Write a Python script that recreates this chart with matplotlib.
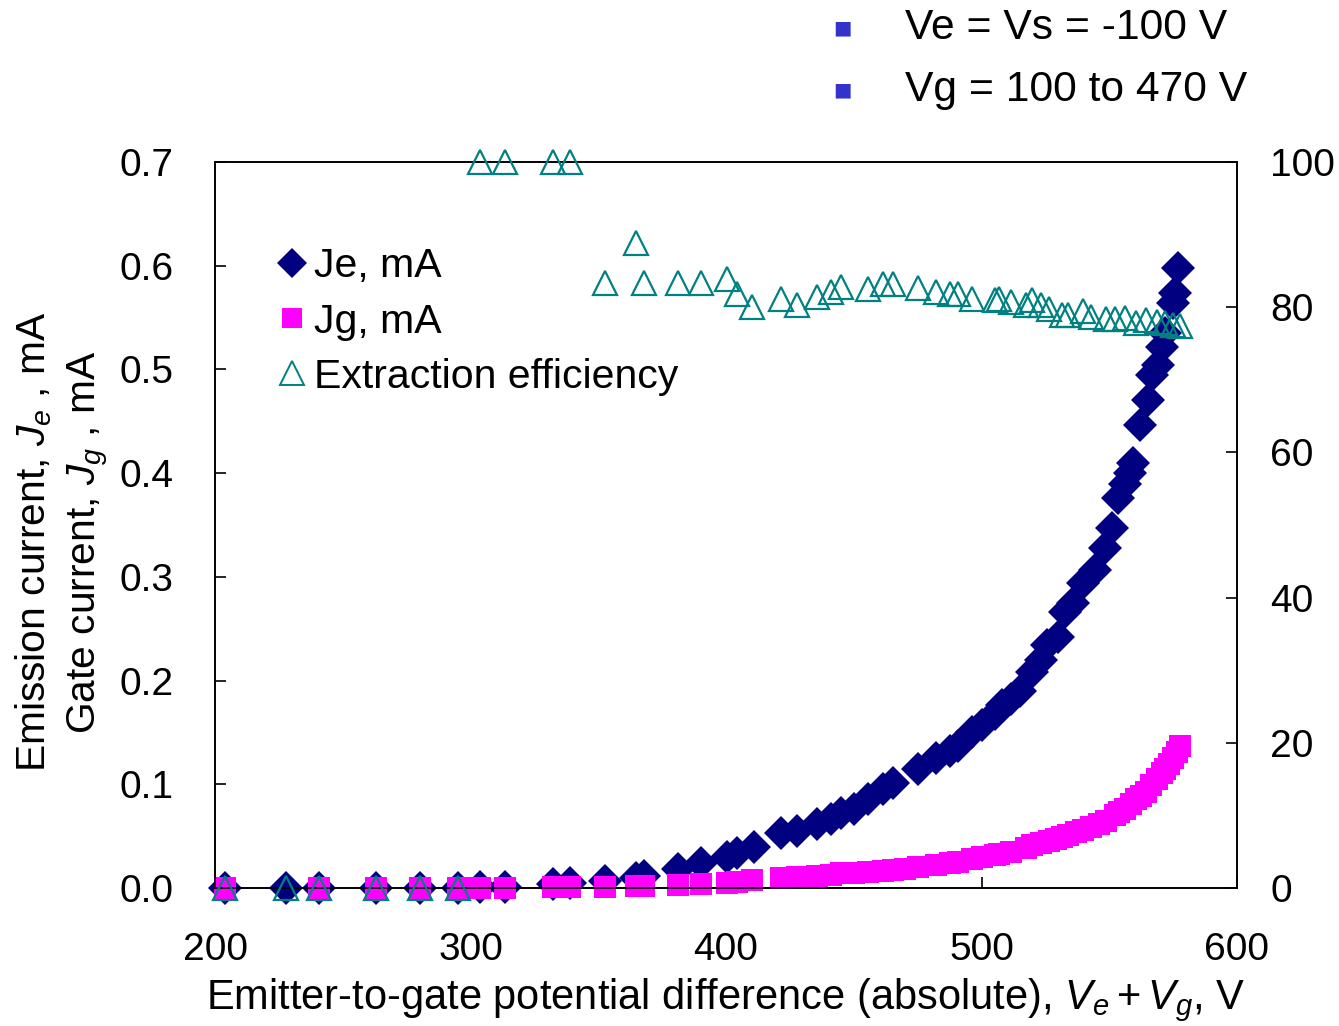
import matplotlib
matplotlib.use('Agg')
import matplotlib.pyplot as plt
from matplotlib.lines import Line2D

plt.rcParams['font.family'] = ['Liberation Sans', 'DejaVu Sans']
plt.rcParams['mathtext.fontset'] = 'custom'
plt.rcParams['mathtext.it'] = 'Liberation Sans:italic'
plt.rcParams['mathtext.rm'] = 'Liberation Sans'

# ---- data ----
v_je = [203.9, 227.8, 240.7, 263.0, 280.2, 295.1, 303.7, 313.5, 332.3, 338.9,
        352.6, 364.8, 367.9, 381.2, 390.2, 400.4, 404.3, 411.0, 421.5, 427.8,
        435.6, 441.1, 445.0, 450.0, 455.6, 461.4, 465.4, 475.1, 482.2, 487.7,
        490.8, 496.3, 500.0, 505.3, 508.0, 511.5, 515.0, 519.8, 523.3, 525.6,
        529.9, 532.7, 535.8, 539.7, 544.4, 548.3, 551.1, 553.4, 556.2, 558.1,
        559.3, 562.0, 565.2, 566.7, 569.0, 570.6, 572.0, 575.0, 575.7, 576.9]
je = [0, 0, 0, 0, 0, 0, 0.0005, 0.001, 0.004, 0.005,
      0.007, 0.010, 0.012, 0.018, 0.024, 0.030, 0.034, 0.040, 0.053, 0.055,
      0.062, 0.067, 0.072, 0.076, 0.086, 0.095, 0.101, 0.115, 0.125, 0.132,
      0.137, 0.150, 0.157, 0.168, 0.176, 0.182, 0.190, 0.208, 0.220, 0.234,
      0.242, 0.266, 0.275, 0.294, 0.307, 0.328, 0.347, 0.376, 0.390, 0.400,
      0.410, 0.446, 0.471, 0.495, 0.504, 0.522, 0.535, 0.564, 0.574, 0.598]

v_jg = [203.9, 240.7, 263.0, 280.2, 295.1, 303.7, 313.5, 332.3, 338.9,
        352.6, 364.8, 367.9, 381.2, 390.2, 400.4, 404.3, 410.2, 421.5, 427.8,
        435.6, 441.1, 445.0, 450.0, 455.6, 461.4, 465.4, 470.0, 475.1, 482.2,
        487.7, 490.8, 496.3, 500.0, 505.3, 506.8, 511.5, 517.4, 519.8, 523.3,
        526.4, 529.0, 531.5, 533.9, 537.0, 539.7, 542.9, 546.0, 548.7, 552.3,
        554.0, 556.2, 558.5, 560.5, 562.5, 564.4, 566.5, 568.7, 570.5, 571.8,
        573.5, 575.0, 576.5, 577.7]
jg = [0, 0, 0, 0, 0, 0, 0, 0.001, 0.001,
      0.001, 0.002, 0.002, 0.003, 0.004, 0.005, 0.006, 0.008, 0.010, 0.011,
      0.012, 0.013, 0.014, 0.0145, 0.015, 0.016, 0.017, 0.018, 0.020, 0.022,
      0.024, 0.025, 0.028, 0.030, 0.032, 0.033, 0.035, 0.039, 0.041, 0.043,
      0.045, 0.047, 0.049, 0.051, 0.054, 0.056, 0.059, 0.062, 0.065, 0.070,
      0.073, 0.076, 0.081, 0.086, 0.089, 0.093, 0.099, 0.105, 0.111, 0.115,
      0.120, 0.125, 0.131, 0.137]

v_eff = [203.9, 227.8, 240.7, 263.0, 280.2, 295.1, 303.7, 313.5, 332.3, 338.9,
         352.6, 364.8, 367.9, 381.2, 390.2, 400.4, 404.3, 410.2, 421.5, 427.8,
         435.6, 441.1, 445.0, 455.6, 461.4, 465.4, 475.1, 482.2, 487.7, 490.8,
         496.3, 505.3, 506.8, 511.5, 517.4, 519.8, 523.3, 526.4, 531.5, 533.9,
         539.7, 542.9, 548.7, 552.3, 556.2, 560.5, 564.4, 568.7, 571.8, 575.0, 577.7]
eff = [0, 0, 0, 0, 0, 0, 100, 100, 100, 100,
       83.3, 88.8, 83.3, 83.3, 83.3, 83.9, 81.8, 80.0, 81.1, 80.3,
       81.4, 82.1, 82.8, 82.5, 83.2, 83.2, 82.6, 82.1, 81.8, 81.8,
       81.1, 81.0, 81.1, 80.7, 80.3, 81.0, 80.3, 79.8, 78.9, 78.9,
       79.5, 78.7, 78.4, 78.4, 78.5, 77.8, 78.2, 78.0, 77.8, 77.5, 77.4]

x_ticks = [200, 300, 400, 500, 600]
y_ticks = [0.0, 0.1, 0.2, 0.3, 0.4, 0.5, 0.6, 0.7]
y2_ticks = [0, 20, 40, 60, 80, 100]

legend_labels = ['Je, mA', 'Jg, mA', 'Extraction efficiency']
notes = ['Ve = Vs = -100 V', 'Vg = 100 to 470 V']

c_je = '#000080'
c_jg = '#FF00FF'
c_eff = '#008080'

fig = plt.figure(figsize=(13.39, 10.26), dpi=100)
ax = fig.add_axes([215/1339, 138/1026, 1022/1339, 726/1026])
ax2 = ax.twinx()

ax.plot(v_je, je, linestyle='none', marker='D', ms=17, color=c_je, mec=c_je, mew=0, clip_on=False, zorder=3)
ax.plot(v_jg, jg, linestyle='none', marker='s', ms=16.5, color=c_jg, mec=c_jg, mew=0, clip_on=False, zorder=4)
ax2.plot(v_eff, eff, linestyle='none', marker='^', ms=17, mfc='none', mec=c_eff, mew=1.6, clip_on=False, zorder=5)

ax.set_xlim(200, 600)
ax.set_ylim(0, 0.7)
ax2.set_ylim(0, 100)
ax.set_xticks(x_ticks)
ax.set_xticklabels([str(t) for t in x_ticks])
ax.set_yticks(y_ticks)
ax.set_yticklabels(['%.1f' % t for t in y_ticks])
ax2.set_yticks(y2_ticks)
ax2.set_yticklabels([str(t) for t in y2_ticks])

ax.tick_params(axis='both', direction='in', length=8, width=1.2, labelsize=28)
ax.tick_params(axis='y', pad=30)
ax.tick_params(axis='x', pad=32)
ax2.tick_params(axis='y', direction='in', length=8, width=1.2, labelsize=28, pad=24)
for a in (ax, ax2):
    for s in a.spines.values():
        s.set_linewidth(1.2)

ax.set_xlabel('Emitter-to-gate potential difference (absolute), $V_e + V_g$, V', fontsize=30, labelpad=6)

fig.text(34/1339, 1 - 542/1026, 'Emission current, $J_e$ , mA', rotation=90, fontsize=29.3,
         ha='center', va='center')
fig.text(88/1339, 1 - 542/1026, 'Gate current, $J_g$ , mA', rotation=90, fontsize=29.3,
         ha='center', va='center')

handles = [Line2D([], [], linestyle='none', marker='D', ms=15, color=c_je, mew=0),
           Line2D([], [], linestyle='none', marker='s', ms=15, color=c_jg, mew=0),
           Line2D([], [], linestyle='none', marker='^', ms=17, mfc='none', mec=c_eff, mew=1.4)]
leg = ax2.legend(handles, legend_labels, loc='upper left', bbox_to_anchor=(0.045, 0.905),
                 frameon=False, fontsize=29.5, handlelength=0.7, handletextpad=0.2,
                 labelspacing=0.42, borderaxespad=0)

for i, txt in enumerate(notes):
    yy = 1 - (28 + 62 * i) / 1026
    fig.text(842/1339, yy, '\u25A0', color='#3333CC', fontsize=14, ha='center', va='center',
             family=['DejaVu Sans'])
    fig.text(905/1339, yy, txt, fontsize=30.7, ha='left', va='center')

fig.savefig('out.png', dpi=100)
